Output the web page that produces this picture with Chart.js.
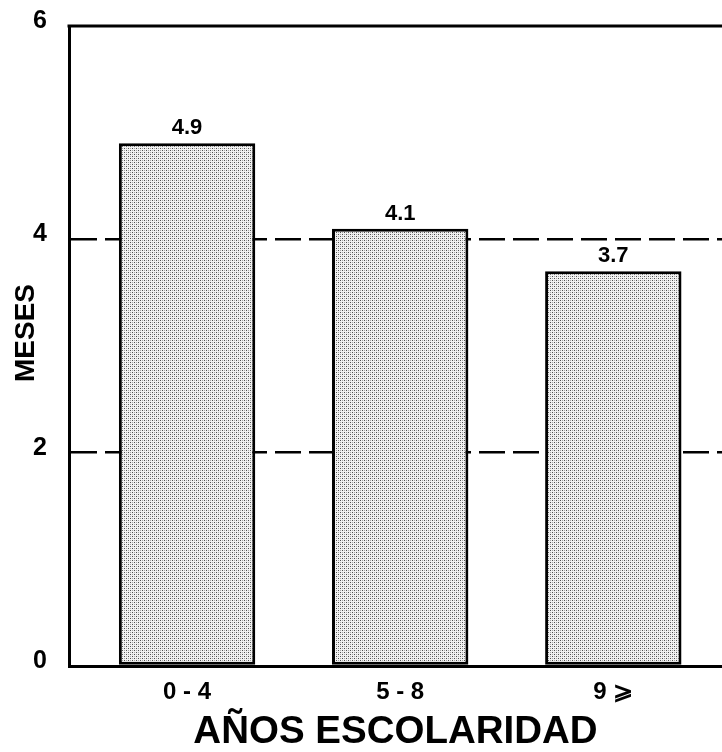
<!DOCTYPE html>
<html>
<head>
<meta charset="utf-8">
<script src="https://cdn.jsdelivr.net/npm/chart.js@4"></script>
<style>
html,body{margin:0;padding:0;background:#fff;}
#wrap{width:722px;height:752px;}
</style>
</head>
<body>
<div id="wrap"><canvas id="c" width="722" height="752"></canvas></div>
<script>
// ---- data ----
const categories = ['0 - 4', '5 - 8', '9 \u2A7E'];
const values = [4.9, 4.1, 3.7];
const valueLabels = ['4.9', '4.1', '3.7'];
const yTickValues = [0, 2, 4, 6];
const xTitle = 'AÑOS ESCOLARIDAD';
const yTitle = 'MESES';

const FONT = "'Liberation Sans', Arial, Helvetica, sans-serif";

// stipple fill
function makePattern() {
  const p = document.createElement('canvas');
  p.width = 4; p.height = 4;
  const g = p.getContext('2d');
  g.fillStyle = '#f2f2f2'; g.fillRect(0, 0, 4, 4);
  g.fillStyle = '#505050';
  g.fillRect(0, 0, 1, 1);
  g.fillRect(2, 2, 1, 1);
  g.fillStyle = '#a8a8a8';
  g.fillRect(2, 0, 1, 1);
  g.fillRect(0, 2, 1, 1);
  return document.getElementById('c').getContext('2d').createPattern(p, 'repeat');
}

const extras = {
  id: 'extras',
  beforeDatasetsDraw(chart) {
    const {ctx, chartArea, scales: {y}} = chart;
    const yTop = y.getPixelForValue(y.max);
    ctx.save();
    ctx.strokeStyle = '#000';
    ctx.lineWidth = 3;
    ctx.beginPath();
    ctx.moveTo(chartArea.left - 1.5, yTop);
    ctx.lineTo(chart.width, yTop);
    ctx.stroke();
    ctx.restore();
  },
  afterDatasetsDraw(chart) {
    const {ctx} = chart;
    const meta = chart.getDatasetMeta(0);
    ctx.save();
    ctx.fillStyle = '#000';
    ctx.font = 'bold 22px ' + FONT;
    ctx.textAlign = 'center';
    ctx.textBaseline = 'bottom';
    meta.data.forEach((bar, i) => {
      ctx.fillText(valueLabels[i], bar.x, bar.y - 4);
    });
    ctx.restore();
  },
  afterDraw(chart) {
    const {ctx, chartArea} = chart;
    ctx.save();
    ctx.fillStyle = '#000';
    ctx.font = 'bold 28px ' + FONT;
    ctx.textAlign = 'center';
    ctx.textBaseline = 'middle';
    ctx.translate(26, (chartArea.top + chartArea.bottom) / 2 - 13);
    ctx.rotate(-Math.PI / 2);
    ctx.fillText(yTitle, 0, 0);
    ctx.restore();
  }
};

new Chart(document.getElementById('c'), {
  type: 'bar',
  data: {
    datasets: [{
      data: values.map((v, i) => ({x: i, y: v})),
      backgroundColor: makePattern(),
      borderColor: '#000',
      borderWidth: 3,
      borderSkipped: false,
      barPercentage: 0.64,
      categoryPercentage: 1.0
    }]
  },
  options: {
    responsive: false,
    animation: false,
    layout: {padding: {top: 26, right: 0, left: 0, bottom: 0}},
    plugins: {legend: {display: false}, tooltip: {enabled: false}},
    scales: {
      x: {
        type: 'linear',
        offset: false,
        min: -0.554,
        max: 2.51,
        afterBuildTicks: (s) => { s.ticks = categories.map((c, i) => ({value: i})); },
        grid: {display: false, drawTicks: false},
        border: {display: true, color: '#000', width: 3},
        ticks: {
          autoSkip: false,
          maxRotation: 0,
          padding: 12,
          color: '#000',
          font: {family: FONT, size: 24, weight: 'bold'},
          callback: (v) => (Number.isInteger(v) && categories[v] !== undefined) ? categories[v] : ''
        },
        title: {
          display: true,
          text: xTitle,
          color: '#000',
          font: {family: FONT, size: 38.5, weight: 'bold', lineHeight: 1},
          padding: 0
        },
        afterFit: (s) => { s.height = 86; }
      },
      y: {
        min: 0,
        max: 6,
        afterBuildTicks: (s) => { s.ticks = yTickValues.map(v => ({value: v})); },
        grid: {
          drawTicks: false,
          lineWidth: 2.5,
          color: (c) => (c.tick && (c.tick.value === 2 || c.tick.value === 4)) ? '#000' : 'rgba(0,0,0,0)'
        },
        border: {display: true, color: '#000', width: 3, dash: [26, 8]},
        ticks: {
          padding: 22,
          labelOffset: -5,
          color: '#000',
          font: {family: FONT, size: 25, weight: 'bold', lineHeight: 0.3}
        },
        afterFit: (s) => { s.width = 69; }
      }
    }
  },
  plugins: [extras]
});
</script>
</body>
</html>
